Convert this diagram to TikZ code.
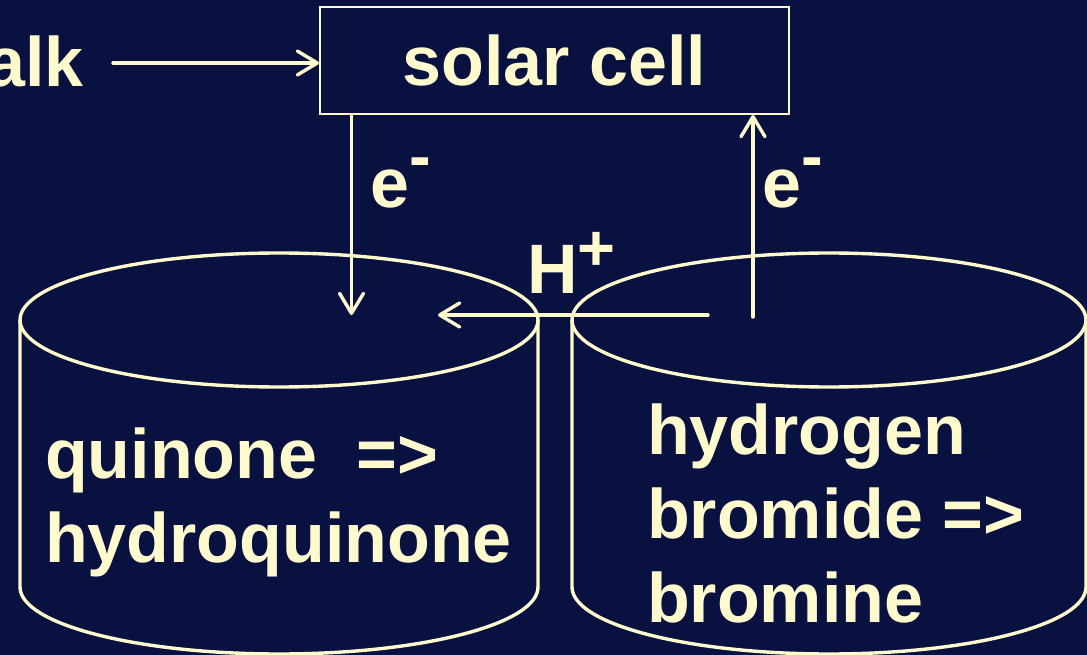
\documentclass[tikz,border=0pt]{standalone}
\usepackage{fontspec}
\setmainfont{Liberation Sans}
\usetikzlibrary{arrows.meta}
\definecolor{bg}{HTML}{08113F}
\definecolor{fg}{HTML}{FFF9CE}
\begin{document}
\begin{tikzpicture}[x=1pt,y=-1pt,
  txt/.style={text=fg,font=\fontsize{70}{84}\selectfont\bfseries,inner sep=0pt},
  arr/.style={draw=fg,line width=3.4pt,line cap=round,-{Straight Barb[length=20pt,width=24pt,line width=3.4pt,round]}},
  shell/.style={draw=fg,line width=3.4pt},
  cellbox/.style={draw=fg,line width=2pt,minimum width=469pt,minimum height=107pt}]
\fill[bg] (0,0) rectangle (1087,655);
\useasboundingbox (0,0) rectangle (1087,655);
\clip (0,0) rectangle (1087,655);
% left tank
\draw[shell] (279,320) ellipse [x radius=259pt, y radius=67pt];
\draw[shell] (20,320) -- (20,587) arc[start angle=180,end angle=360,x radius=259pt,y radius=67pt] -- (538,320);
% right tank
\draw[shell] (829,320) ellipse [x radius=257pt, y radius=67pt];
\draw[shell] (572,320) -- (572,587) arc[start angle=180,end angle=360,x radius=257pt,y radius=67pt] -- (1086,320);
% nodes
\node[txt,cellbox] (cell) at (554.5,60.5) {solar cell};
\node[txt,anchor=base east] (alk) at (84,87) {alk};
\node[txt,anchor=base west,align=left] (qt) at (45,562) {quinone\ \ =>\\hydroquinone};
\node[txt,anchor=base west,align=left] (ht) at (647,622) {hydrogen\\bromide =>\\bromine};
\node[txt,anchor=base west] (eLl) at (370,208) {e\raisebox{29pt}{\fontsize{65}{65}\selectfont -}};
\node[txt,anchor=base west] (eRl) at (762,208) {e\raisebox{29pt}{\fontsize{65}{65}\selectfont -}};
\node[txt,anchor=base west] (hpl) at (527,293) {H\raisebox{23pt}{\fontsize{65}{65}\selectfont +}};
% connectors
\coordinate (inA) at (113,63);
\draw[arr] (inA) -- (inA -| cell.west);
\coordinate (eL) at (351.5,315);
\draw[arr] (cell.south -| eL) -- (eL);
\coordinate (eR) at (753,317);
\draw[arr] (eR) -- (eR |- cell.south);
\coordinate (hS) at (708,315);
\coordinate (hE) at (438,315);
\draw[arr] (hS) -- (hE);
\end{tikzpicture}
\end{document}
